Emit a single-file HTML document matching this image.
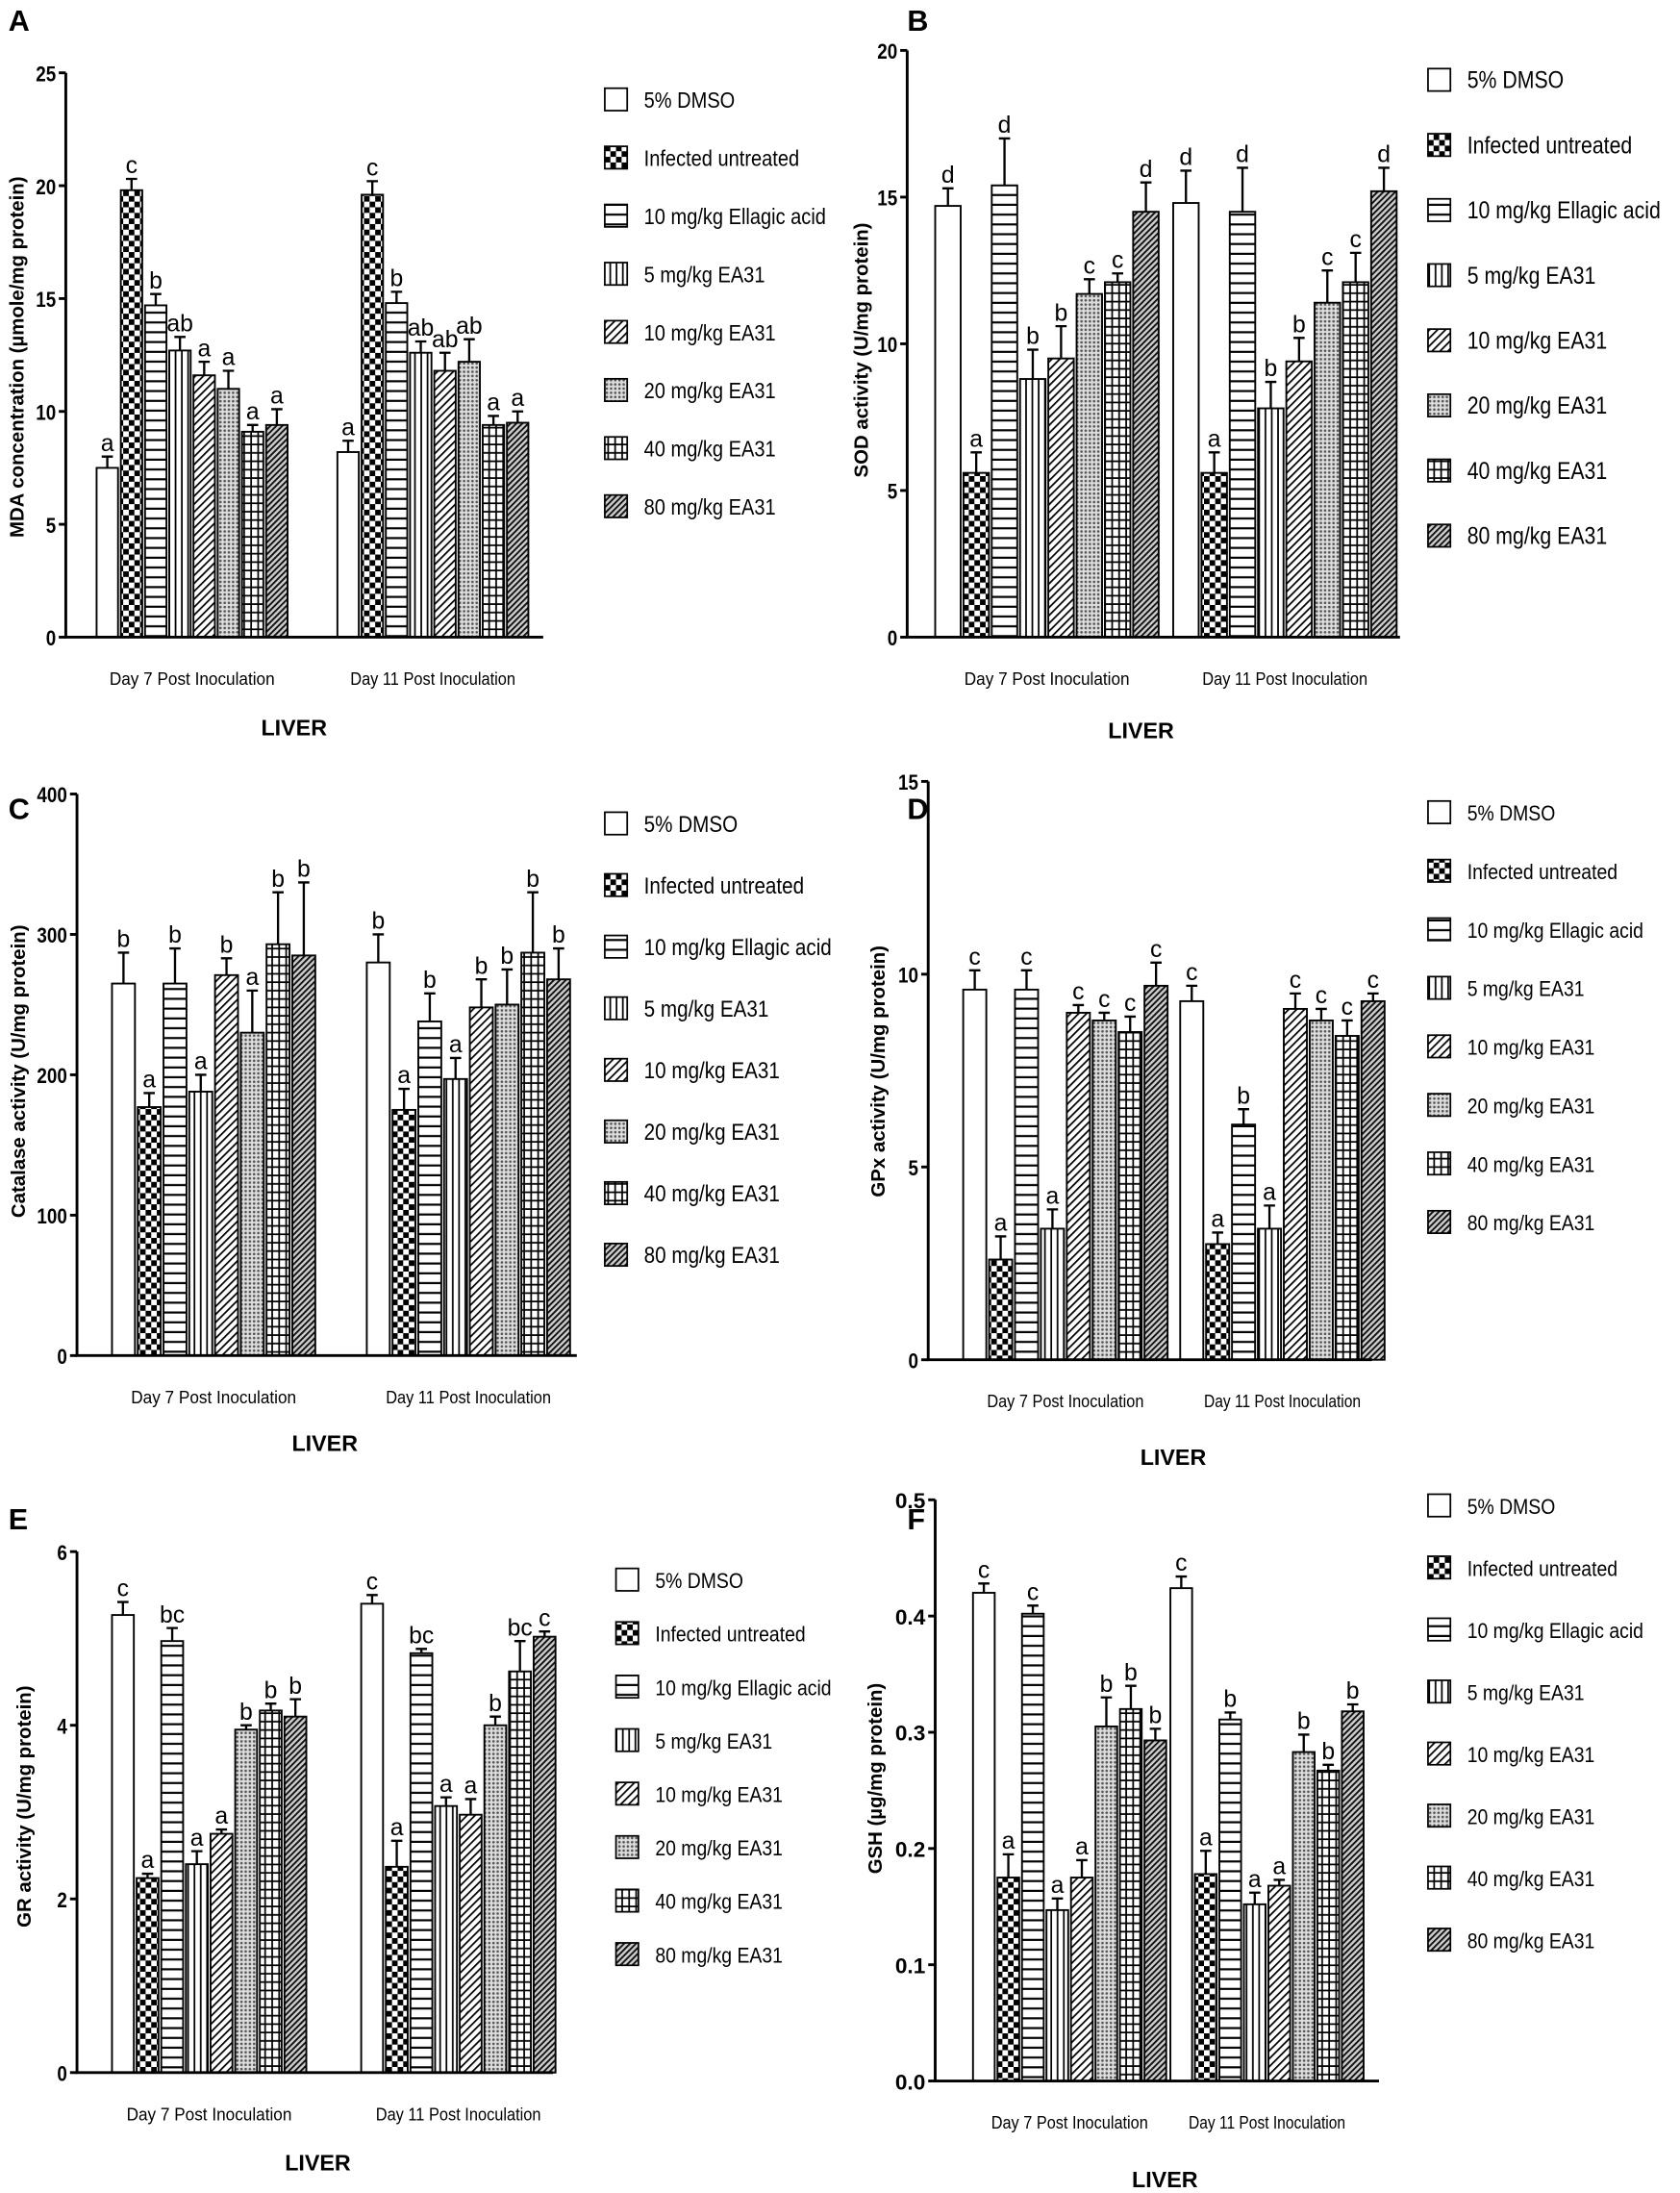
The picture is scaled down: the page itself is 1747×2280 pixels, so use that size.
<!DOCTYPE html>
<html><head><meta charset="utf-8"><style>
html,body{margin:0;padding:0;background:#fff}
svg{display:block}
text{font-family:"Liberation Sans",sans-serif;fill:#000}
</style></head><body>
<svg id="fig" xmlns="http://www.w3.org/2000/svg" width="1747" height="2280" viewBox="0 0 1200 1566" preserveAspectRatio="none">
<defs>
<pattern id="p0" patternUnits="userSpaceOnUse" width="4" height="4"><rect width="4" height="4" fill="#fff"/></pattern>
<pattern id="p1" patternUnits="userSpaceOnUse" width="8" height="8"><rect width="8" height="8" fill="#fff"/><rect width="4" height="4" fill="#000"/><rect x="4" y="4" width="4" height="4" fill="#000"/></pattern>
<pattern id="p2" patternUnits="userSpaceOnUse" width="6" height="7"><rect width="6" height="7" fill="#fff"/><rect y="5.5" width="6" height="1.5" fill="#000"/></pattern>
<pattern id="p3" patternUnits="userSpaceOnUse" width="4.5" height="6"><rect width="4.5" height="6" fill="#fff"/><rect x="3.3" width="1.2" height="6" fill="#000"/></pattern>
<pattern id="p4" patternUnits="userSpaceOnUse" width="4" height="4" patternTransform="rotate(45)"><rect width="4" height="4" fill="#fff"/><rect width="1.2" height="4" fill="#000"/></pattern>
<pattern id="p5" patternUnits="userSpaceOnUse" width="3" height="3"><rect width="3" height="3" fill="#ddd"/><circle cx="1.5" cy="1.5" r="0.9" fill="#555"/></pattern>
<pattern id="p6" patternUnits="userSpaceOnUse" width="5" height="6"><rect width="5" height="6" fill="#fff"/><rect x="3.8" width="1.2" height="6" fill="#000"/><rect y="4.8" width="5" height="1.2" fill="#000"/></pattern>
<pattern id="p7" patternUnits="userSpaceOnUse" width="3" height="3" patternTransform="rotate(45)"><rect width="3" height="3" fill="#ccc"/><rect width="1.3" height="3" fill="#111"/></pattern>
</defs>
</svg>
<script>
const groupLabels = ["Day 7 Post Inoculation", "Day 11 Post Inoculation"];
const seriesNames = ["5% DMSO","Infected untreated","10 mg/kg Ellagic acid","5 mg/kg EA31","10 mg/kg EA31","20 mg/kg EA31","40 mg/kg EA31","80 mg/kg EA31"];

const aTicks = [0,5,10,15,20,25];
const aDay7 = [7.5,19.8,14.7,12.7,11.6,11.0,9.1,9.4];
const aDay7Err = [0.5,0.5,0.5,0.6,0.6,0.8,0.3,0.7];
const aDay7Sig = ["a","c","b","ab","a","a","a","a"];
const aDay11 = [8.2,19.6,14.8,12.6,11.8,12.2,9.4,9.5];
const aDay11Err = [0.5,0.6,0.5,0.5,0.8,1.0,0.4,0.5];
const aDay11Sig = ["a","c","b","ab","ab","ab","a","a"];

const bTicks = [0,5,10,15,20];
const bDay7 = [14.7,5.6,15.4,8.8,9.5,11.7,12.1,14.5];
const bDay7Err = [0.6,0.7,1.6,1.0,1.1,0.5,0.3,1.0];
const bDay7Sig = ["d","a","d","b","b","c","c","d"];
const bDay11 = [14.8,5.6,14.5,7.8,9.4,11.4,12.1,15.2];
const bDay11Err = [1.1,0.7,1.5,0.9,0.8,1.1,1.0,0.8];
const bDay11Sig = ["d","a","d","b","b","c","c","d"];

const cTicks = [0,100,200,300,400];
const cDay7 = [265,177,265,188,271,230,293,285];
const cDay7Err = [22,10,25,12,12,30,37,52];
const cDay7Sig = ["b","a","b","a","b","a","b","b"];
const cDay11 = [280,175,238,197,248,250,287,268];
const cDay11Err = [20,15,20,15,20,25,43,22];
const cDay11Sig = ["b","a","b","a","b","b","b","b"];

const dTicks = [0,5,10,15];
const dDay7 = [9.6,2.6,9.6,3.4,9.0,8.8,8.5,9.7];
const dDay7Err = [0.5,0.6,0.5,0.5,0.2,0.2,0.4,0.6];
const dDay7Sig = ["c","a","c","a","c","c","c","c"];
const dDay11 = [9.3,3.0,6.1,3.4,9.1,8.8,8.4,9.3];
const dDay11Err = [0.4,0.3,0.4,0.6,0.4,0.3,0.4,0.2];
const dDay11Sig = ["c","a","b","a","c","c","c","c"];

const eTicks = [0,2,4,6];
const eDay7 = [5.27,2.24,4.97,2.40,2.75,3.95,4.17,4.10];
const eDay7Err = [0.15,0.05,0.15,0.15,0.05,0.05,0.08,0.2];
const eDay7Sig = ["c","a","bc","a","a","b","b","b"];
const eDay11 = [5.40,2.37,4.83,3.07,2.97,4.00,4.62,5.02];
const eDay11Err = [0.1,0.3,0.05,0.1,0.18,0.1,0.35,0.06];
const eDay11Sig = ["c","a","bc","a","a","b","bc","c"];

const fTicks = [0.0,0.1,0.2,0.3,0.4,0.5];
const fDay7 = [0.420,0.175,0.402,0.147,0.175,0.305,0.320,0.293];
const fDay7Err = [0.008,0.02,0.007,0.01,0.015,0.025,0.02,0.01];
const fDay7Sig = ["c","a","c","a","a","b","b","b"];
const fDay11 = [0.424,0.178,0.311,0.152,0.168,0.283,0.267,0.318];
const fDay11Err = [0.01,0.02,0.006,0.01,0.005,0.015,0.005,0.006];
const fDay11Sig = ["c","a","b","a","a","b","b","b"];

const NS = "http://www.w3.org/2000/svg";
const svg = document.getElementById("fig");
function mk(tag, attrs, parent, txt){
  const e = document.createElementNS(NS, tag);
  for (const k in attrs) e.setAttribute(k, attrs[k]);
  if (txt !== undefined) e.textContent = txt;
  (parent||svg).appendChild(e);
  return e;
}

function panel(cfg){
  const g = mk("g", {});
  
  
  const yMax = cfg.ticks[cfg.ticks.length-1];
  const yScale = v => cfg.y0 - (v / yMax) * (cfg.y0 - cfg.yTop);
  const pl = mk("text", {x: cfg.lx, y: cfg.ly, "font-size": 21, "font-weight": "bold"}, g, cfg.id);
  
  
  const groups = [[cfg.d7, cfg.e7, cfg.s7, cfg.g1], [cfg.d11, cfg.e11, cfg.s11, cfg.g2]];
  groups.forEach((grp, gi) => {
    grp[0].forEach((v, i) => {
      const x = grp[3] + i * cfg.pitch;
      const w = cfg.pitch - 2;
      const yv = yScale(v);
      const ye = yScale(v + grp[1][i]);
      const cx = x + w/2;
      const eb = mk("path", {d: `M${cx},${yv}V${ye}M${cx-4},${ye}H${cx+4}`, stroke: "#000", "stroke-width": 1.6, fill: "none"}, g);
      
      
      const r = mk("rect", {x: x, y: yv, width: w, height: cfg.y0 - yv, fill: `url(#p${i})`, stroke: "#000", "stroke-width": 1.3}, g);
      
      
      const t = mk("text", {x: cx, y: ye - 4, "font-size": 17, "text-anchor": "middle"}, g, grp[2][i]);
      
      
    });
    const gl = mk("text", {x: grp[3] + cfg.pitch*4 - 1, y: cfg.y0 + 34, "font-size": 12.5, "text-anchor": "middle", textLength: cfg.labW, lengthAdjust: "spacingAndGlyphs"}, g, groupLabels[gi]);
    
    
  });
  const ax = mk("path", {d: `M${cfg.ax},${cfg.yTop}V${cfg.y0}H${cfg.axEnd}`, stroke: "#000", "stroke-width": 2, fill: "none"}, g);
  
  
  cfg.ticks.forEach(t => {
    const y = yScale(t);
    const tk = mk("line", {x1: cfg.ax - 5, x2: cfg.ax, y1: y, y2: y, stroke: "#000", "stroke-width": 2}, g);
    
    
    const s = cfg.fmt(t);
    const tl = mk("text", {x: cfg.ax - 7, y: y + 6, "font-size": 15, "font-weight": "bold", "text-anchor": "end", textLength: s.length * 7.2, lengthAdjust: "spacingAndGlyphs"}, g, s);
    
    
  });
  const yt = mk("text", {x: 0, y: 0, "font-size": 14, "font-weight": "bold", "text-anchor": "middle", transform: `translate(${cfg.tx},${cfg.ty}) rotate(-90)`}, g, cfg.title);
  
  
  const lv = mk("text", {x: cfg.livX, y: cfg.livY, "font-size": 16, "font-weight": "bold", "text-anchor": "middle"}, g, "LIVER");
  
  
  seriesNames.forEach((n, i) => {
    const y = cfg.legY + i * cfg.legStep;
    const lb = mk("rect", {x: cfg.legX, y: y - 8, width: 16, height: 16, fill: `url(#p${i})`, stroke: "#000", "stroke-width": 1.2}, g);
    
    
    const lt = mk("text", {x: cfg.legX + 28, y: y + 6, "font-size": cfg.legFs, transform: `translate(${(cfg.legX+28)*0.14},0) scale(0.86,1)`}, g, n);
    
    
  });
}
const intFmt = t => String(t);
const decFmt = t => t.toFixed(1);

panel({id:"A", lx:6, ly:22, ticks:aTicks, fmt:intFmt, ax:47, axEnd:388, y0:455, yTop:52, g1:69, g2:241, pitch:17.3, d7:aDay7, e7:aDay7Err, s7:aDay7Sig, d11:aDay11, e11:aDay11Err, s11:aDay11Sig, title:"MDA concentration (µmole/mg protein)", tx:17, ty:255, livX:210, livY:525, legX:432, legY:71, legStep:41.5, legFs:16, labW:118});
panel({id:"B", lx:648, ly:22, ticks:bTicks, fmt:intFmt, ax:648, axEnd:1000, y0:455, yTop:36, g1:668, g2:838, pitch:20.2, d7:bDay7, e7:bDay7Err, s7:bDay7Sig, d11:bDay11, e11:bDay11Err, s11:bDay11Sig, title:"SOD activity (U/mg protein)", tx:620, ty:250, livX:815, livY:527, legX:1020, legY:57, legStep:46.5, legFs:17, labW:118});
panel({id:"C", lx:6, ly:585, ticks:cTicks, fmt:intFmt, ax:55, axEnd:412, y0:968, yTop:567, g1:80, g2:262, pitch:18.4, d7:cDay7, e7:cDay7Err, s7:cDay7Sig, d11:cDay11, e11:cDay11Err, s11:cDay11Sig, title:"Catalase activity (U/mg protein)", tx:18, ty:765, livX:232, livY:1036, legX:432, legY:588, legStep:44, legFs:16.5, labW:118});
panel({id:"D", lx:648, ly:585, ticks:dTicks, fmt:intFmt, ax:663, axEnd:980, y0:971, yTop:558, g1:688, g2:843, pitch:18.5, d7:dDay7, e7:dDay7Err, s7:dDay7Sig, d11:dDay11, e11:dDay11Err, s11:dDay11Sig, title:"GPx activity (U/mg protein)", tx:632, ty:765, livX:838, livY:1046, legX:1020, legY:580, legStep:41.8, legFs:15.5, labW:112});
panel({id:"E", lx:6, ly:1092, ticks:eTicks, fmt:intFmt, ax:55, axEnd:395, y0:1480, yTop:1108, g1:80, g2:258, pitch:17.6, d7:eDay7, e7:eDay7Err, s7:eDay7Sig, d11:eDay11, e11:eDay11Err, s11:eDay11Sig, title:"GR activity (U/mg protein)", tx:22, ty:1290, livX:227, livY:1550, legX:440, legY:1128, legStep:38.2, legFs:15.5, labW:118});
panel({id:"F", lx:648, ly:1092, ticks:fTicks, fmt:decFmt, ax:668, axEnd:985, y0:1486, yTop:1071, g1:695, g2:836, pitch:17.5, d7:fDay7, e7:fDay7Err, s7:fDay7Sig, d11:fDay11, e11:fDay11Err, s11:fDay11Sig, title:"GSH (µg/mg protein)", tx:630, ty:1270, livX:832, livY:1562, legX:1020, legY:1075, legStep:44.3, legFs:15.5, labW:112});
</script>
</body></html>
